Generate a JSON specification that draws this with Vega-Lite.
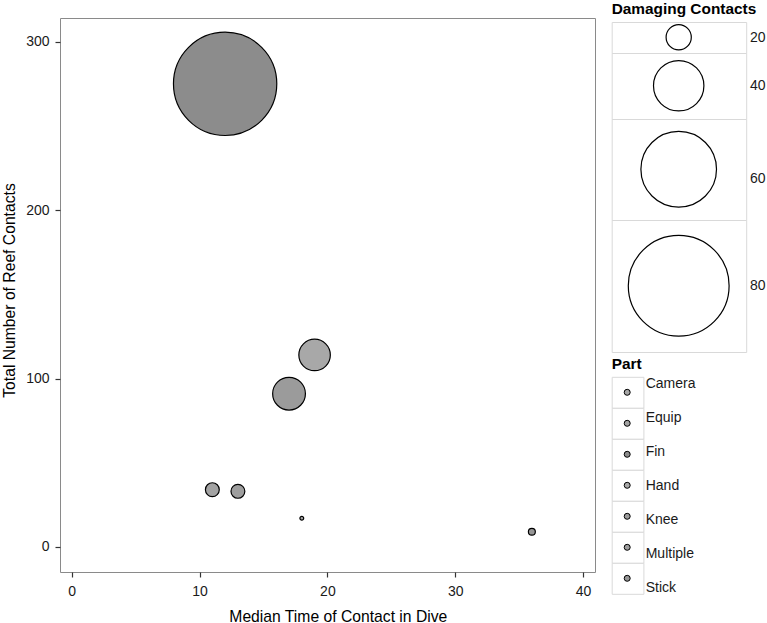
{
  "$schema": "https://vega.github.io/schema/vega-lite/v6.json",
  "width": 535,
  "height": 554,
  "autosize": "none",
  "padding": {"left": 60, "top": 18, "right": 172, "bottom": 51},
  "background": "white",
  "config": {
    "view": {"stroke": "#8a8a8a", "strokeWidth": 1},
    "font": "Liberation Sans",
    "axis": {
      "grid": false,
      "domain": false,
      "tickColor": "#333333",
      "tickSize": 5,
      "tickWidth": 1.2,
      "labelColor": "#1a1a1a",
      "labelFont": "Liberation Sans",
      "labelFontSize": 14,
      "titleFont": "Liberation Sans",
      "titleFontSize": 15.7,
      "titleFontWeight": "normal",
      "titleColor": "#000000"
    },
    "legend": {
      "titleFont": "Liberation Sans",
      "labelFont": "Liberation Sans",
      "titleColor": "#000000",
      "labelColor": "#1a1a1a"
    }
  },
  "data": {
    "values": [
      {"part": "Fin", "time": 12, "contacts": 275, "damaging": 82},
      {"part": "Knee", "time": 17, "contacts": 91, "damaging": 26},
      {"part": "Hand", "time": 19, "contacts": 114, "damaging": 25},
      {"part": "Equip", "time": 11, "contacts": 34, "damaging": 11},
      {"part": "Multiple", "time": 13, "contacts": 33, "damaging": 11},
      {"part": "Camera", "time": 18, "contacts": 17, "damaging": 3},
      {"part": "Stick", "time": 36, "contacts": 9, "damaging": 5.5}
    ]
  },
  "encoding": {
    "x": {
      "field": "time",
      "type": "quantitative",
      "scale": {"domain": [-0.92, 40.94], "nice": false, "zero": false},
      "axis": {
        "values": [0, 10, 20, 30, 40],
        "title": "Median Time of Contact in Dive",
        "labelPadding": 7,
        "titleX": 277.8,
        "titleY": 49.3,
        "titleBaseline": "alphabetic",
        "titleAlign": "center"
      }
    },
    "y": {
      "field": "contacts",
      "type": "quantitative",
      "scale": {"domain": [-14.9, 314.1], "nice": false, "zero": false},
      "axis": {
        "values": [0, 100, 200, 300],
        "title": "Total Number of Reef Contacts",
        "labelPadding": 6,
        "titleX": -46,
        "titleY": 272,
        "titleAngle": -90,
        "titleBaseline": "alphabetic",
        "titleAlign": "center"
      }
    }
  },
  "layer": [
    {
      "mark": {"type": "point", "shape": "circle", "filled": true, "stroke": "black", "strokeWidth": 1.2, "opacity": 1, "fillOpacity": 1},
      "encoding": {
        "size": {
          "field": "damaging",
          "type": "quantitative",
          "scale": {"type": "pow", "exponent": 2, "domain": [0, 100], "range": [0, 15876]},
          "legend": {
            "title": "Damaging Contacts",
            "values": [20, 40, 60, 80],
            "orient": "none",
            "legendX": 551.7,
            "legendY": -16,
            "padding": 0,
            "titleFontSize": 15.4,
            "titleFontWeight": "bold",
            "titlePadding": 4.6,
            "rowPadding": -1.5,
            "labelFontSize": 14,
            "labelExpr": "''",
            "symbolFillColor": "white",
            "symbolStrokeColor": "black",
            "symbolStrokeWidth": 1.2,
            "encoding": {
              "entries": {
                "noBound": {"value": false},
                "stroke": {"value": "#d9d9d9"},
                "strokeWidth": {"value": 1},
                "fill": {"value": "white"},
                "width": {"value": 134},
                "height": {"value": {"expr": "[30.5, 65.5, 100.5, 131.5][datum.index]"}}
              },
              "symbols": {
                "x": {"value": 67},
                "y": {"value": {"expr": "[30.5, 65.5, 100.5, 131.5][datum.index] / 2"}},
                "fill": {"value": "white"},
                "stroke": {"value": "black"},
                "strokeWidth": {"value": 1.2},
                "opacity": {"value": 1}
              },
              "labels": {
                "x": {"value": 2},
                "y": {"value": 15},
                "opacity": {"value": 0}
              }
            }
          }
        },
        "fill": {
          "field": "part",
          "type": "nominal",
          "scale": {
            "domain": ["Camera", "Equip", "Fin", "Hand", "Knee", "Multiple", "Stick"],
            "range": ["#a6a6a6", "#a3a3a3", "#8c8c8c", "#a8a8a8", "#9b9b9b", "#9e9e9e", "#969696"]
          },
          "legend": {
            "title": "Part",
            "orient": "none",
            "legendX": 551.7,
            "legendY": 338.7,
            "padding": 0,
            "titleFontSize": 15.4,
            "titleFontWeight": "bold",
            "titlePadding": 4.7,
            "rowPadding": -1.5,
            "labelFontSize": 14,
            "labelExpr": "''",
            "symbolSize": 36,
            "symbolStrokeColor": "black",
            "symbolStrokeWidth": 1,
            "encoding": {
              "entries": {
                "noBound": {"value": false},
                "stroke": {"value": "#d9d9d9"},
                "strokeWidth": {"value": 1},
                "fill": {"value": "white"},
                "width": {"value": 31.2},
                "height": {"value": 30.5}
              },
              "symbols": {
                "x": {"value": 15.5},
                "y": {"value": 15.5},
                "stroke": {"value": "black"},
                "strokeWidth": {"value": 1},
                "opacity": {"value": 1}
              },
              "labels": {
                "x": {"value": 2},
                "y": {"value": 15.5},
                "opacity": {"value": 0}
              }
            }
          }
        }
      }
    },
    {
      "mark": {"type": "point", "shape": "circle", "filled": true, "opacity": 0, "fillOpacity": 0, "strokeOpacity": 0},
      "encoding": {
        "size": {
          "field": "damaging",
          "type": "quantitative",
          "scale": {"type": "pow", "exponent": 2, "domain": [0, 100], "range": [0, 15876]},
          "legend": {
            "title": null,
            "values": [20, 40, 60, 80],
            "orient": "none",
            "legendX": 551.7,
            "legendY": 4.3,
            "padding": 0,
            "rowPadding": -0.5,
            "labelFontSize": 14,
            "encoding": {
              "entries": {
                "noBound": {"value": false},
                "width": {"value": 134},
                "height": {"value": {"expr": "[30.5, 65.5, 100.5, 131.5][datum.index]"}}
              },
              "symbols": {
                "x": {"value": 67},
                "y": {"value": {"expr": "[30.5, 65.5, 100.5, 131.5][datum.index] / 2"}},
                "opacity": {"value": 0},
                "strokeWidth": {"value": 0}
              },
              "labels": {
                "x": {"value": 138.3},
                "y": {"value": {"expr": "[30.5, 65.5, 100.5, 131.5][datum.index] / 2 + (datum.index == 2 ? 9 : 0)"}},
                "align": {"value": "left"},
                "baseline": {"value": "middle"}
              }
            }
          }
        },
        "fill": {
          "field": "part",
          "type": "nominal",
          "scale": {
            "domain": ["Camera", "Equip", "Fin", "Hand", "Knee", "Multiple", "Stick"],
            "range": ["#a6a6a6", "#a3a3a3", "#8c8c8c", "#a8a8a8", "#9b9b9b", "#9e9e9e", "#969696"]
          },
          "legend": {
            "title": null,
            "orient": "none",
            "legendX": 551.7,
            "legendY": 358,
            "padding": 0,
            "rowPadding": -0.5,
            "labelFontSize": 14,
            "symbolSize": 36,
            "encoding": {
              "entries": {
                "noBound": {"value": false},
                "width": {"value": 31.2},
                "height": {"value": 30.5}
              },
              "symbols": {
                "x": {"value": 15.5},
                "y": {"value": 15.5},
                "opacity": {"value": 0},
                "strokeWidth": {"value": 0}
              },
              "labels": {
                "x": {"value": 34},
                "y": {"value": {"expr": "8 + 3*datum.index"}},
                "align": {"value": "left"},
                "baseline": {"value": "middle"}
              }
            }
          }
        }
      }
    }
  ],
  "resolve": {
    "scale": {"size": "independent", "fill": "independent"},
    "legend": {"size": "independent", "fill": "independent"}
  }
}
